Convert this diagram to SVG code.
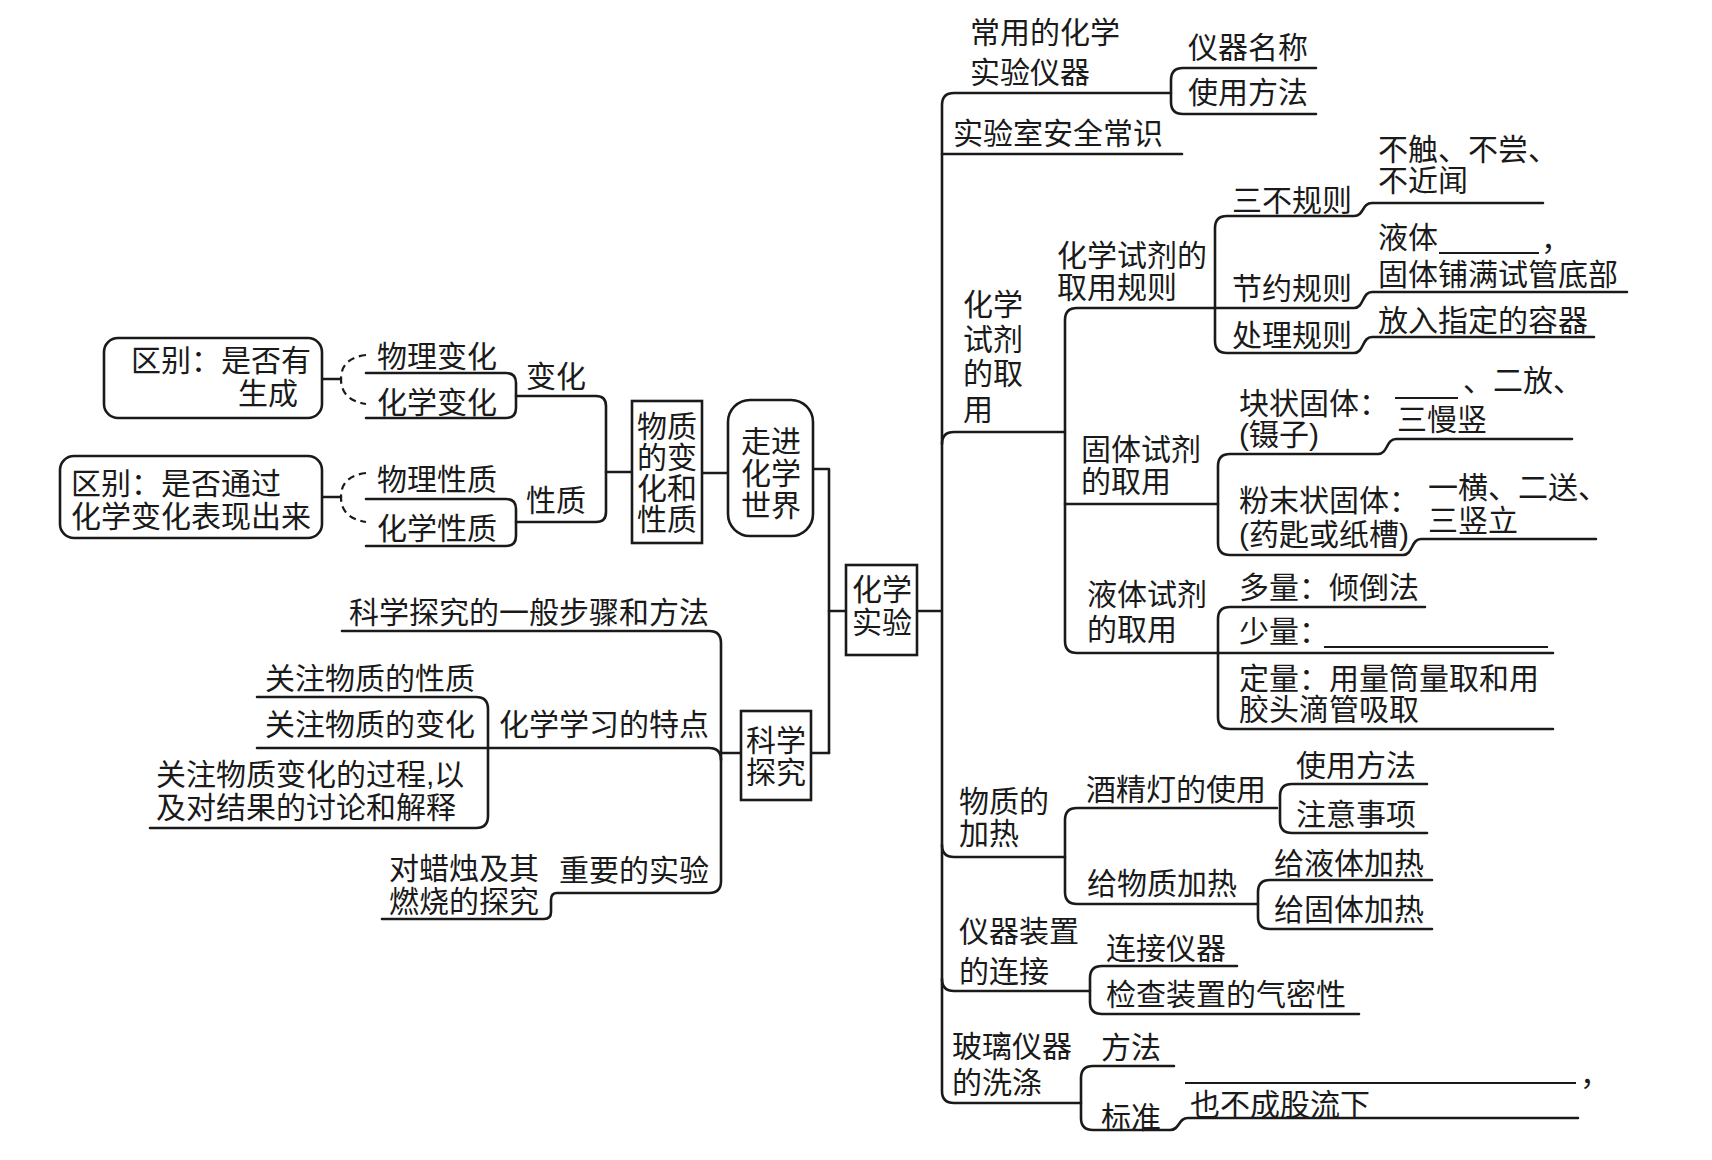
<svg xmlns="http://www.w3.org/2000/svg" width="1712" height="1160" viewBox="0 0 1712 1160">
<style>
text{font-family:"Liberation Sans","Noto Sans CJK SC",sans-serif;font-size:30px;fill:#1a1a1a}
.l{fill:none;stroke:#1a1a1a;stroke-width:2.6;stroke-linecap:round;stroke-linejoin:round}
.k{fill:none;stroke:#1a1a1a;stroke-width:2.2}
.d{fill:none;stroke:#1a1a1a;stroke-width:2.2;stroke-dasharray:7 5}
.b{fill:#fff;stroke:#1a1a1a;stroke-width:2.6}
</style>
<rect width="1712" height="1160" fill="#fff"/>
<g id="connectors">
<path class="l" d="M322,379 H341"/>
<path class="d" d="M366,355 Q341,358 341,379 Q341,400 366,404"/>
<path class="l" d="M366,373 H506 Q516,373 516,383 V408 Q516,418 506,418 H366"/>
<path class="l" d="M516,396 H596 Q606,396 606,406 V512 Q606,522 596,522 H516"/>
<path class="l" d="M322,497 H341"/>
<path class="d" d="M366,473 Q341,476 341,497 Q341,518 366,522"/>
<path class="l" d="M366,499 H506 Q516,499 516,509 V536 Q516,546 506,546 H366"/>
<path class="l" d="M606,472 H632"/>
<path class="l" d="M702,473 H728"/>
<path class="l" d="M813,469 H829 V753"/>
<path class="l" d="M829,611 H846"/>
<path class="l" d="M917,611 H941"/>
<path class="l" d="M811,753 H829"/>
<path class="l" d="M721,753 H741"/>
<path class="l" d="M342,631 H709 Q721,631 721,643 V881 Q721,893 709,893 H557 Q551,893 551,900 V912 Q551,919 544,919 H382"/>
<path class="l" d="M257,748 H709 Q721,748 721,760"/>
<path class="l" d="M257,697 H476 Q488,697 488,709 V816 Q488,828 476,828 H150"/>
<path class="l" d="M1171,93 H954 Q942,93 942,105 V1091 Q942,1103 954,1103 H1081"/>
<path class="l" d="M1316,68 H1183 Q1171,68 1171,80 V102 Q1171,114 1183,114 H1316"/>
<path class="l" d="M942,154 H1182"/>
<path class="l" d="M942,444 Q942,432 954,432 H1065"/>
<path class="l" d="M1215,308 H1077 Q1065,308 1065,320 V641 Q1065,653 1077,653 H1553"/>
<path class="l" d="M1065,504 H1218"/>
<path class="l" d="M1543,203 H1372 C1362,203 1364,216 1354,216 H1227 Q1215,216 1215,228 V341 Q1215,353 1227,353 H1354 C1364,353 1362,337 1372,337 H1594"/>
<path class="l" d="M1215,308 H1354 C1364,308 1362,292 1372,292 H1627"/>
<path class="l" d="M1572,439 H1396 C1386,439 1388,454 1378,454 H1230 Q1218,454 1218,466 V543 Q1218,555 1230,555 H1403 C1413,555 1411,539 1421,539 H1596"/>
<path class="l" d="M1425,607 H1230 Q1218,607 1218,619 V717 Q1218,729 1230,729 H1553"/>
<path class="l" d="M942,845 Q942,857 954,857 H1065"/>
<path class="l" d="M1277,808 H1077 Q1065,808 1065,820 V892 Q1065,904 1077,904 H1258"/>
<path class="l" d="M1427,784 H1292 Q1280,784 1280,796 V821 Q1280,833 1292,833 H1427"/>
<path class="l" d="M1432,880 H1270 Q1258,880 1258,892 V917 Q1258,929 1270,929 H1432"/>
<path class="l" d="M942,979 Q942,991 954,991 H1090"/>
<path class="l" d="M1237,966 H1102 Q1090,966 1090,978 V1002 Q1090,1014 1102,1014 H1359"/>
<path class="l" d="M1174,1066 H1093 Q1081,1066 1081,1078 V1118 Q1081,1130 1093,1130 H1170 C1180,1130 1178,1118 1188,1118 H1578"/>
</g>
<g id="blanks">
<path class="k" d="M117,412 H229"/>
<path class="k" d="M1439,253 H1539"/>
<path class="k" d="M1395,398 H1458"/>
<path class="k" d="M1324,647 H1548"/>
<path class="k" d="M1185,1083 H1576"/>
</g>
<g id="n-bianhua-diff">
<rect class="b" x="104" y="338" width="218" height="80" rx="14"/>
<text x="131" y="371">区别：是否有</text>
<text x="238" y="404">生成</text>
</g>
<g id="n-xingzhi-diff">
<rect class="b" x="60" y="456" width="262" height="82" rx="14"/>
<text x="71" y="494">区别：是否通过<tspan x="71" y="527">化学变化表现出来</tspan></text>
</g>
<g id="n-wulibianhua"><text x="377" y="367">物理变化</text></g>
<g id="n-huaxuebianhua"><text x="377" y="413">化学变化</text></g>
<g id="n-bianhua"><text x="526" y="387">变化</text></g>
<g id="n-wulixingzhi"><text x="377" y="490">物理性质</text></g>
<g id="n-huaxuexingzhi"><text x="377" y="539">化学性质</text></g>
<g id="n-xingzhi"><text x="526" y="511">性质</text></g>
<g id="n-wuzhi">
<rect class="b" x="632" y="401" width="70" height="142"/>
<text x="637" y="437">物质<tspan x="637" y="468">的变</tspan><tspan x="637" y="499">化和</tspan><tspan x="637" y="530">性质</tspan></text>
</g>
<g id="n-zoujin">
<rect class="b" x="728" y="400" width="85" height="136" rx="22"/>
<text x="741" y="452">走进<tspan x="741" y="484">化学</tspan><tspan x="741" y="516">世界</tspan></text>
</g>
<g id="n-shiyan">
<rect class="b" x="846" y="565" width="71" height="90"/>
<text x="852" y="600">化学<tspan x="852" y="633">实验</tspan></text>
</g>
<g id="n-tanjiu">
<rect class="b" x="741" y="711" width="70" height="89"/>
<text x="746" y="751">科学<tspan x="746" y="783">探究</tspan></text>
</g>
<g id="n-buzhou"><text x="349" y="623">科学探究的一般步骤和方法</text></g>
<g id="n-tedian"><text x="499" y="735">化学学习的特点</text></g>
<g id="n-xingzhi2"><text x="265" y="689">关注物质的性质</text></g>
<g id="n-bianhua2"><text x="265" y="735">关注物质的变化</text></g>
<g id="n-guocheng"><text x="156" y="785">关注物质变化的过程,以<tspan x="156" y="818">及对结果的讨论和解释</tspan></text></g>
<g id="n-zhuyao"><text x="559" y="881">重要的实验</text></g>
<g id="n-lazhu"><text x="389" y="879">对蜡烛及其<tspan x="389" y="912">燃烧的探究</tspan></text></g>
<g id="n-yiqi"><text x="970" y="43">常用的化学<tspan x="970" y="83">实验仪器</tspan></text></g>
<g id="n-mingcheng"><text x="1188" y="58">仪器名称</text></g>
<g id="n-fangfa1"><text x="1188" y="103">使用方法</text></g>
<g id="n-anquan"><text x="953" y="144">实验室安全常识</text></g>
<g id="n-quyong"><text x="963" y="315">化学<tspan x="963" y="350">试剂</tspan><tspan x="963" y="384">的取</tspan><tspan x="963" y="420">用</tspan></text></g>
<g id="n-guize"><text x="1057" y="266">化学试剂的<tspan x="1057" y="298">取用规则</tspan></text></g>
<g id="n-sanbu"><text x="1232" y="211">三不规则</text></g>
<g id="n-sanbu-c"><text x="1378" y="160">不触、不尝、<tspan x="1378" y="191">不近闻</tspan></text></g>
<g id="n-jieyue"><text x="1232" y="299">节约规则</text></g>
<g id="n-jieyue-c"><text x="1378" y="248">液体</text><text x="1541" y="250">，</text><text x="1378" y="285">固体铺满试管底部</text></g>
<g id="n-chuli"><text x="1232" y="346">处理规则</text></g>
<g id="n-chuli-c"><text x="1378" y="331">放入指定的容器</text></g>
<g id="n-guti"><text x="1081" y="460">固体试剂<tspan x="1081" y="492">的取用</tspan></text></g>
<g id="n-kuaizhuang"><text x="1239" y="414">块状固体：<tspan x="1239" y="445">(镊子)</tspan></text></g>
<g id="n-kuaizhuang-c"><text x="1463" y="391">、二放、</text><text x="1397" y="430">三慢竖</text></g>
<g id="n-fenmo"><text x="1239" y="511">粉末状固体：<tspan x="1239" y="545">(药匙或纸槽)</tspan></text></g>
<g id="n-fenmo-c"><text x="1428" y="498">一横、二送、<tspan x="1428" y="531">三竖立</tspan></text></g>
<g id="n-yeti"><text x="1087" y="605">液体试剂<tspan x="1087" y="640">的取用</tspan></text></g>
<g id="n-duoliang"><text x="1239" y="598">多量：倾倒法</text></g>
<g id="n-shaoliang"><text x="1239" y="642">少量：</text></g>
<g id="n-dingliang"><text x="1239" y="689">定量：用量筒量取和用<tspan x="1239" y="720">胶头滴管吸取</tspan></text></g>
<g id="n-jiare"><text x="959" y="812">物质的<tspan x="959" y="844">加热</tspan></text></g>
<g id="n-jiujingdeng"><text x="1086" y="800">酒精灯的使用</text></g>
<g id="n-fangfa2"><text x="1296" y="776">使用方法</text></g>
<g id="n-zhuyi"><text x="1296" y="825">注意事项</text></g>
<g id="n-gei"><text x="1087" y="894">给物质加热</text></g>
<g id="n-yetijiare"><text x="1274" y="874">给液体加热</text></g>
<g id="n-gutijiare"><text x="1274" y="920">给固体加热</text></g>
<g id="n-lianjie"><text x="959" y="942">仪器装置<tspan x="959" y="982">的连接</tspan></text></g>
<g id="n-lianjieyiqi"><text x="1106" y="959">连接仪器</text></g>
<g id="n-jiancha"><text x="1106" y="1005">检查装置的气密性</text></g>
<g id="n-xidi"><text x="952" y="1057">玻璃仪器<tspan x="952" y="1093">的洗涤</tspan></text></g>
<g id="n-fangfa3"><text x="1101" y="1058">方法</text></g>
<g id="n-biaozhun"><text x="1101" y="1128">标准</text></g>
<g id="n-biaozhun-c"><text x="1580" y="1085">，</text><text x="1190" y="1115">也不成股流下</text></g>
</svg>
